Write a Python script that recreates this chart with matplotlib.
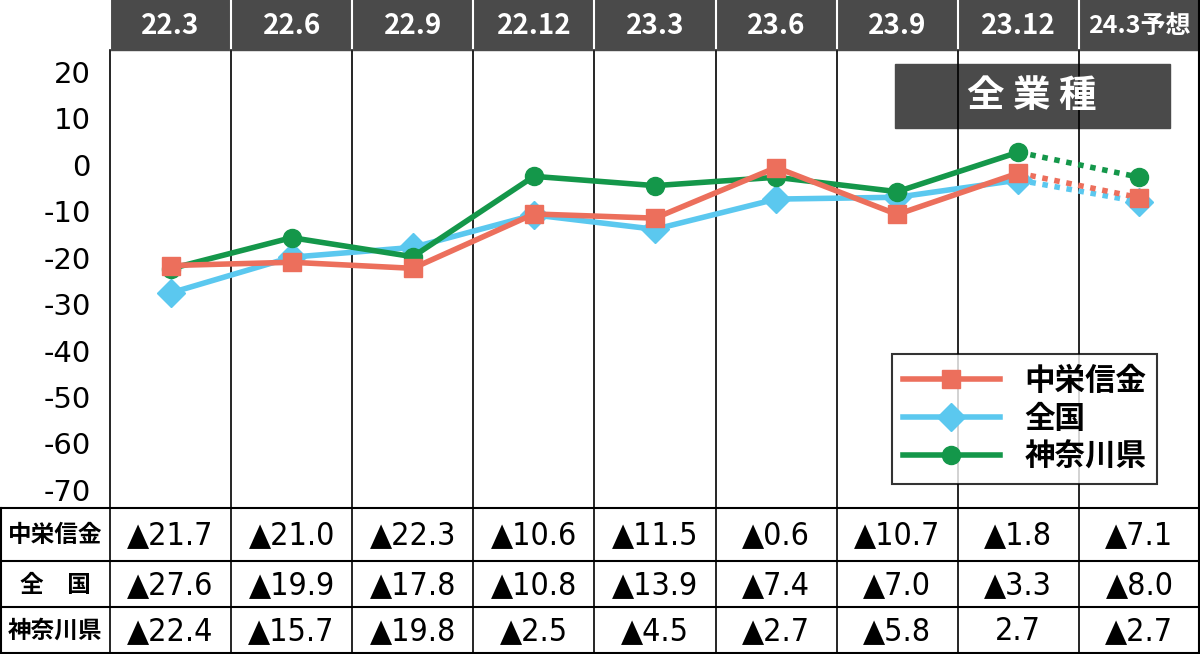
import matplotlib.pyplot as plt
from matplotlib.patches import Rectangle
from matplotlib.lines import Line2D

plt.rcParams['font.family'] = ['Noto Sans CJK JP', 'DejaVu Sans']
plt.rcParams['axes.unicode_minus'] = False

periods = ["22.3", "22.6", "22.9", "22.12", "23.3", "23.6", "23.9", "23.12", "24.3予想"]
chuei = [-21.7, -21.0, -22.3, -10.6, -11.5, -0.6, -10.7, -1.8, -7.1]
zenkoku = [-27.6, -19.9, -17.8, -10.8, -13.9, -7.4, -7.0, -3.3, -8.0]
kanagawa = [-22.4, -15.7, -19.8, -2.5, -4.5, -2.7, -5.8, 2.7, -2.7]
row_names = ["中栄信金", "全　国", "神奈川県"]
yticks = [20, 10, 0, -10, -20, -30, -40, -50, -60, -70]

W, H = 1200, 654
fig = plt.figure(figsize=(W / 100, H / 100), dpi=100)

def fx(px): return px / W
def fy(py): return 1 - py / H

left, top_plot, bot_plot = 110, 50, 508
row_edges = [508, 562, 608, 654]
colw = (W - left) / 9

# full-figure overlay axes for header and table
bg = fig.add_axes([0, 0, 1, 1])
bg.set_xlim(0, W); bg.set_ylim(H, 0); bg.axis('off')

bg.add_patch(Rectangle((left, 0), W - left, top_plot, color='#4a4a4a'))
for i, p in enumerate(periods):
    cx = left + colw * (i + 0.5)
    bg.text(cx, 26, p, ha='center', va='center', color='white',
            fontsize=20 if i < 8 else 18, fontweight='bold')
    bg.plot([left + colw * i] * 2, [0, top_plot], color='white', lw=1.5)

# table
for r, vals in enumerate([chuei, zenkoku, kanagawa]):
    y0, y1 = row_edges[r], row_edges[r + 1]
    cy = (y0 + y1) / 2
    bg.text(55, cy, row_names[r], ha='center', va='center', fontsize=17,
            fontweight='bold')
    for i, v in enumerate(vals):
        cx = left + colw * (i + 0.5)
        s = ("▲%.1f" % abs(v)) if v < 0 else "%.1f" % v
        bg.text(cx, cy + 1, s, ha='center', va='center', fontsize=23,
                family=['DejaVu Sans'], fontstretch='condensed')
    bg.plot([0, W], [y1 - 1, y1 - 1], color='black', lw=1.5)
bg.plot([0, W], [row_edges[0], row_edges[0]], color='black', lw=1.5)
for i in range(10):
    x = left + colw * i
    bg.plot([x, x], [top_plot, H], color='black', lw=1.2)
bg.plot([1, 1], [row_edges[0], H], color='black', lw=1.5)
bg.plot([W - 1, W - 1], [0, H], color='black', lw=1.5)

# main plot
ax = fig.add_axes([fx(left), fy(bot_plot), fx(W - left), (bot_plot - top_plot) / H])
ax.set_xlim(0, 9)
ax.set_ylim(-73.9, 24.7)
ax.set_xticks([])
ax.set_yticks(yticks)
ax.tick_params(axis='y', length=0, labelsize=21, pad=14)
for lab in ax.get_yticklabels():
    lab.set_family(['DejaVu Sans'])
for s in ax.spines.values():
    s.set_visible(False)
ax.patch.set_alpha(0)

xs = [i + 0.5 for i in range(9)]
series = [(zenkoku, '#5bc8ef', 'D', 14, '全国'),
          (kanagawa, '#14974a', 'o', 13, '神奈川県'),
          (chuei, '#ec6f5c', 's', 13, '中栄信金')]
for vals, c, m, ms, name in series:
    ax.plot(xs[:8], vals[:8], color=c, lw=4, marker=m, ms=ms, zorder=3)
    ax.plot(xs[7:], vals[7:], color=c, lw=4, ls=(0, (1, 1.2)), zorder=2)
    ax.plot(xs[8], vals[8], color=c, marker=m, ms=ms, zorder=3)

handles = [Line2D([], [], color=c, lw=4, marker=m, ms=ms)
           for _, c, m, ms, _ in [series[2], series[0], series[1]]]
leg = ax.legend(handles, ['中栄信金', '全国', '神奈川県'], loc='lower right',
                bbox_to_anchor=(0.975, 0.02), fontsize=22, frameon=True,
                fancybox=False, edgecolor='black', handlelength=3.2,
                borderpad=0.35, labelspacing=0.2)
leg.get_frame().set_linewidth(1.5)
for t in leg.get_texts():
    t.set_fontweight('bold')

# title box
bg.add_patch(Rectangle((895, 64), 275, 64, color='#4a4a4a'))
bg.text(1032, 96, "全 業 種", ha='center', va='center', color='white',
        fontsize=27, fontweight='bold')

fig.savefig('out.png', dpi=100)
